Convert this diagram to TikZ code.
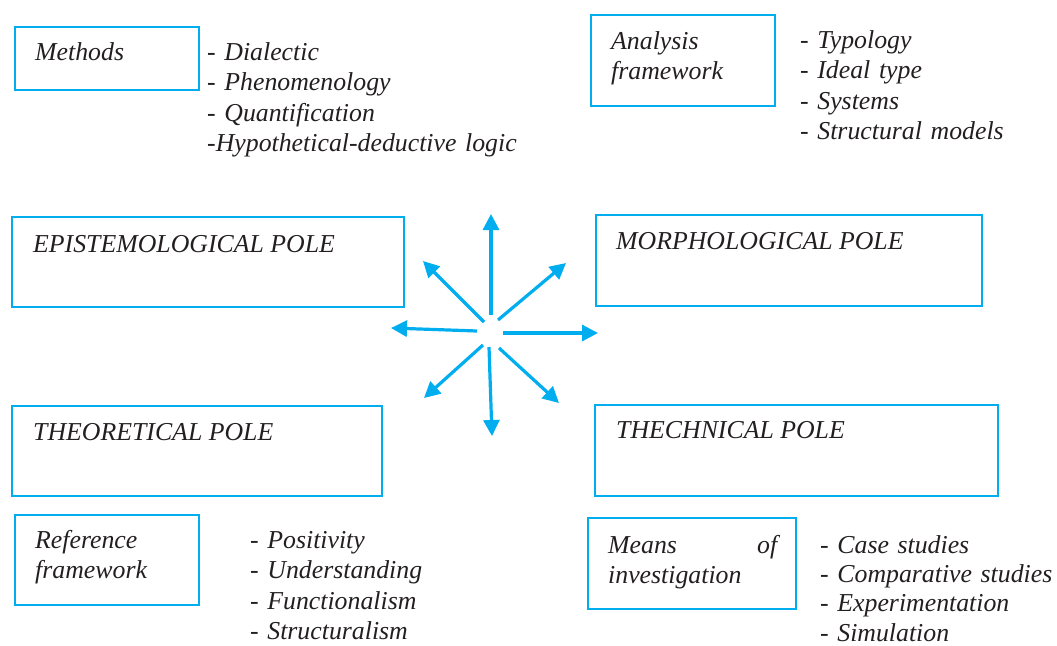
\documentclass[tikz,border=0pt]{standalone}
\usepackage{fontspec}
\setmainfont{Liberation Serif}
\usetikzlibrary{arrows.meta,calc}
\definecolor{polecyan}{HTML}{00AEEF}
\definecolor{inkgray}{HTML}{231F20}
\tikzset{
  box/.style={draw=polecyan,line width=1.8pt,rectangle,inner sep=0pt,anchor=north west},
  txt/.style={text=inkgray,inner sep=0pt,align=left,anchor=base west,
              font=\fontsize{25.8pt}{30.6pt}\selectfont\itshape},
  spoke/.style={draw=polecyan,line width=3.2pt,-{Triangle[length=16pt,width=16pt]}}
}
\begin{document}
\begin{tikzpicture}[x=1pt,y=-1pt]
\useasboundingbox (0,0) rectangle (1057,645);

% frames
\node[box,minimum width=184pt,minimum height=63pt] (methods) at (14,26) {};
\node[box,minimum width=184pt,minimum height=91pt] (analysis) at (590,14) {};
\node[box,minimum width=392pt,minimum height=90pt] (epist) at (11,216) {};
\node[box,minimum width=386pt,minimum height=91pt] (morph) at (595,214) {};
\node[box,minimum width=370pt,minimum height=90pt] (theor) at (11,405) {};
\node[box,minimum width=403pt,minimum height=91pt] (techn) at (594,404) {};
\node[box,minimum width=184pt,minimum height=90pt] (reference) at (14,514) {};
\node[box,minimum width=208pt,minimum height=91pt] (means) at (587,517) {};

% frame titles
\node[txt] (methodstitle) at ($(methods.north west)+(21,34)$) {Methods};
\node[txt,text width=160pt] (analysistitle) at ($(analysis.north west)+(21,35)$) {Analysis\\framework};
\node[txt] (epistitle) at ($(epist.north west)+(22,36)$) {EPISTEMOLOGICAL POLE};
\node[txt] (morphtitle) at ($(morph.north west)+(21,35)$) {MORPHOLOGICAL POLE};
\node[txt] (theortitle) at ($(theor.north west)+(22,35)$) {THEORETICAL POLE};
\node[txt] (techntitle) at ($(techn.north west)+(22,34)$) {THECHNICAL POLE};
\node[txt,text width=160pt] (referencetitle) at ($(reference.north west)+(21,34)$) {Reference\\framework};
\node[txt,text width=169pt] (meanstitle) at ($(means.north west)+(21,36)$) {Means\hfill of\\investigation};

% lists
\node[txt,text width=330pt] (methodslist) at (207,60) {- Dialectic\\- Phenomenology\\- Quantification\\-Hypothetical-deductive logic};
\node[txt,text width=250pt] (analysislist) at (800,48) {- Typology\\- Ideal type\\- Systems\\- Structural models};
\node[txt,text width=200pt] (referencelist) at (250,548) {- Positivity\\- Understanding\\- Functionalism\\- Structuralism};
\node[txt,text width=237pt,font=\fontsize{25.8pt}{29.4pt}\selectfont\itshape] (meanslist) at (820,553) {- Case studies\\- Comparative studies\\- Experimentation\\- Simulation};

% star of arrows
\coordinate (upin) at (491,315);       \coordinate (uptip) at (491,214);
\coordinate (ulin) at (484,322);       \coordinate (ultip) at (423,261);
\coordinate (urin) at (498,320);       \coordinate (urtip) at (566,263);
\coordinate (leftin) at (477,331);     \coordinate (lefttip) at (391,328);
\coordinate (rightin) at (503,333);    \coordinate (righttip) at (598,333);
\coordinate (dlin) at (483,345);       \coordinate (dltip) at (424,398);
\coordinate (downin) at (489,347);     \coordinate (downtip) at (492,436);
\coordinate (drin) at (499,348);       \coordinate (drtip) at (559,403);

\begin{scope}[every edge/.style={spoke}]
  \path (upin) edge (uptip);
  \path (ulin) edge (ultip);
  \path (urin) edge (urtip);
  \path (leftin) edge (lefttip);
  \path (rightin) edge (righttip);
  \path (dlin) edge (dltip);
  \path (downin) edge (downtip);
  \path (drin) edge (drtip);
\end{scope}
\end{tikzpicture}
\end{document}
